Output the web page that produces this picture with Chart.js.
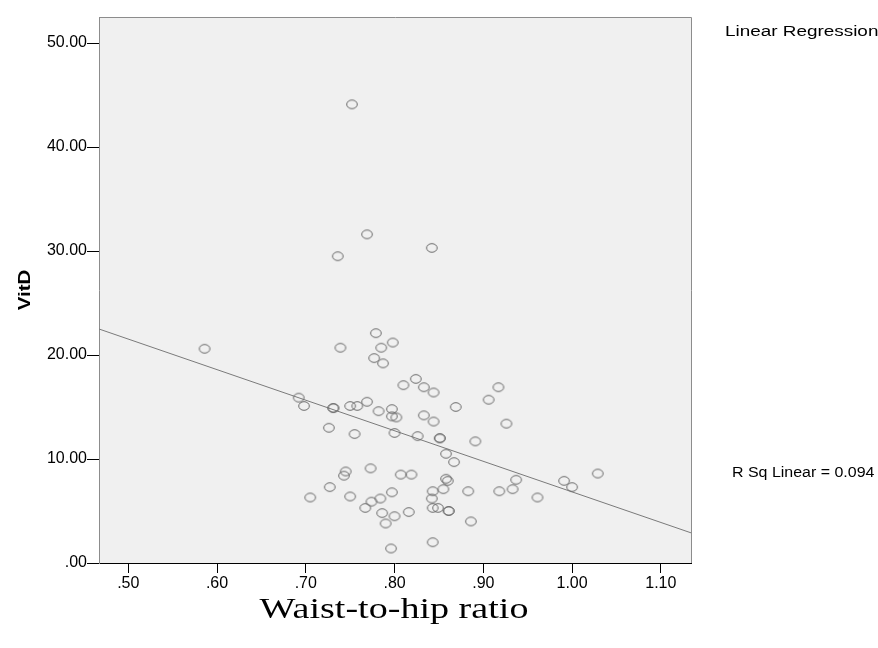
<!DOCTYPE html>
<html>
<head>
<meta charset="utf-8">
<script src="https://cdn.jsdelivr.net/npm/chart.js@4.4.1/dist/chart.umd.min.js"></script>
<style>
  html, body { margin: 0; padding: 0; background: #fff; }
  canvas { display: block; }
</style>
</head>
<body>
<canvas id="scatter" width="878" height="648"></canvas>
<script>
// waist-to-hip ratio vs vitamin D
const waistHip = [
  0.752, 0.769, 0.736, 0.842,
  0.779, 0.739, 0.785, 0.798, 0.777, 0.787, 0.824, 0.810, 0.833, 0.844,
  0.906, 0.692, 0.698, 0.731, 0.731, 0.750, 0.758, 0.769, 0.782, 0.797,
  0.797, 0.802, 0.833, 0.844, 0.869, 0.726, 0.755, 0.800, 0.826, 0.851,
  0.851, 0.891, 0.858, 0.867, 0.773, 0.745, 0.743, 0.807, 0.819, 0.858,
  0.860, 0.727, 0.705, 0.750, 0.797, 0.784, 0.774, 0.767, 0.843, 0.842,
  0.855, 0.843, 0.849, 0.861, 0.861, 0.883, 0.786, 0.800, 0.816, 0.790,
  0.886, 0.843, 0.796,
  0.917, 0.926, 0.937, 0.991, 1.000, 1.029, 0.918, 0.933, 0.961,
  0.586
];
const vitD = [
  44.1, 31.6, 29.5, 30.3,
  22.1, 20.7, 20.7, 21.2, 19.7, 19.2, 17.7, 17.1, 16.9, 16.4,
  15.7, 15.9, 15.1, 14.9, 14.9, 15.1, 15.1, 15.5, 14.6, 14.8,
  14.1, 14.0, 14.2, 13.6, 15.0, 13.0, 12.4, 12.5, 12.2, 12.0,
  12.0, 11.7, 10.5, 9.7, 9.1, 8.8, 8.4, 8.5, 8.5, 8.1,
  7.9, 7.3, 6.3, 6.4, 6.8, 6.2, 5.9, 5.3, 6.9, 6.2,
  7.1, 5.3, 5.3, 5.0, 5.0, 6.9, 4.8, 4.5, 4.9, 3.8,
  4.0, 2.0, 1.4,
  16.9, 13.4, 8.0, 7.9, 7.3, 8.6, 6.9, 7.1, 6.3,
  20.6
];

// fitted line end points (left and right edge of the plot)
const fitX = [0.467, 1.134];
const fitY = [22.5, 2.9];

const xTicks = [0.5, 0.6, 0.7, 0.8, 0.9, 1.0, 1.1];
const xTickLabels = [".50", ".60", ".70", ".80", ".90", "1.00", "1.10"];
const yTicks = [0, 10, 20, 30, 40, 50];
const yTickLabels = [".00", "10.00", "20.00", "30.00", "40.00", "50.00"];

const points = waistHip.map((x, i) => ({ x: x, y: vitD[i] }));
const fitLine = fitX.map((x, i) => ({ x: x, y: fitY[i] }));

// hollow, slightly wide rings like the SPSS markers
function ring() {
  const c = document.createElement("canvas");
  c.width = 14;
  c.height = 12;
  const g = c.getContext("2d");
  g.strokeStyle = "#6a6a6a";
  g.lineWidth = 1;
  g.beginPath();
  g.ellipse(7, 6, 5.3, 4.3, 0, 0, Math.PI * 2);
  g.stroke();
  return c;
}

function stretchText(ctx, text, x, y, sx, align) {
  ctx.save();
  ctx.translate(x, y);
  ctx.scale(sx, 1);
  ctx.textAlign = align;
  ctx.fillText(text, 0, 0);
  ctx.restore();
}

const frame = {
  id: "frame",
  beforeDraw(chart) {
    const { ctx, chartArea: a } = chart;
    ctx.save();
    ctx.fillStyle = "#f0f0f0";
    ctx.fillRect(a.left, a.top, a.right - a.left, a.bottom - a.top);
    ctx.restore();
  },
  afterDraw(chart) {
    const { ctx, chartArea: a } = chart;
    ctx.save();
    ctx.strokeStyle = "#8c8c8c";
    ctx.lineWidth = 1;
    ctx.beginPath();
    ctx.moveTo(a.left + 0.5, a.top + 0.5);
    ctx.lineTo(a.right + 0.5, a.top + 0.5);
    ctx.lineTo(a.right + 0.5, a.bottom);
    ctx.stroke();

    ctx.fillStyle = "#000";
    ctx.textBaseline = "middle";

    // y title
    ctx.save();
    ctx.translate(25, 290);
    ctx.rotate(-Math.PI / 2);
    ctx.font = "bold 17px 'Liberation Sans', Arial, sans-serif";
    stretchText(ctx, "VitD", 0, 0, 1.2, "center");
    ctx.restore();

    // x title
    ctx.font = "30px 'Liberation Serif', 'Times New Roman', serif";
    stretchText(ctx, "Waist-to-hip ratio", 394, 610, 1.27, "center");

    ctx.font = "14px 'Liberation Sans', Arial, sans-serif";
    stretchText(ctx, "Linear Regression", 725, 32, 1.35, "left");
    stretchText(ctx, "R Sq Linear = 0.094", 732, 473, 1.14, "left");
    ctx.restore();
  }
};

const tickFont = { family: "'Liberation Sans', Arial, sans-serif", size: 16 };

new Chart(document.getElementById("scatter"), {
  type: "scatter",
  data: {
    datasets: [
      {
        data: points,
        pointStyle: ring(),
        pointRadius: 5,
        pointHoverRadius: 5
      },
      {
        type: "line",
        data: fitLine,
        borderColor: "#7a7a7a",
        borderWidth: 1,
        pointRadius: 0,
        fill: false
      }
    ]
  },
  options: {
    responsive: false,
    animation: false,
    events: [],
    layout: { padding: { left: 0, right: 187, top: 17, bottom: 0 } },
    plugins: {
      legend: { display: false },
      tooltip: { enabled: false }
    },
    scales: {
      x: {
        type: "linear",
        min: 0.467,
        max: 1.134,
        afterBuildTicks: (s) => { s.ticks = xTicks.map(v => ({ value: v })); },
        afterFit: (s) => { s.height = 85; },
        ticks: {
          color: "#000",
          font: tickFont,
          padding: 1,
          maxRotation: 0,
          callback: (v) => xTickLabels[xTicks.indexOf(Math.round(v * 10) / 10)]
        },
        grid: { drawOnChartArea: false, drawTicks: true, tickLength: 10, color: "#000" },
        border: { display: true, color: "#000" }
      },
      y: {
        type: "linear",
        min: 0,
        max: 52.5,
        afterBuildTicks: (s) => { s.ticks = yTicks.map(v => ({ value: v })); },
        afterFit: (s) => { s.width = 99; },
        ticks: {
          color: "#000",
          font: tickFont,
          padding: 0,
          callback: (v) => yTickLabels[yTicks.indexOf(v)]
        },
        grid: { drawOnChartArea: false, drawTicks: true, tickLength: 12, color: "#000" },
        border: { display: true, color: "#8c8c8c" }
      }
    }
  },
  plugins: [frame]
});
</script>
</body>
</html>
